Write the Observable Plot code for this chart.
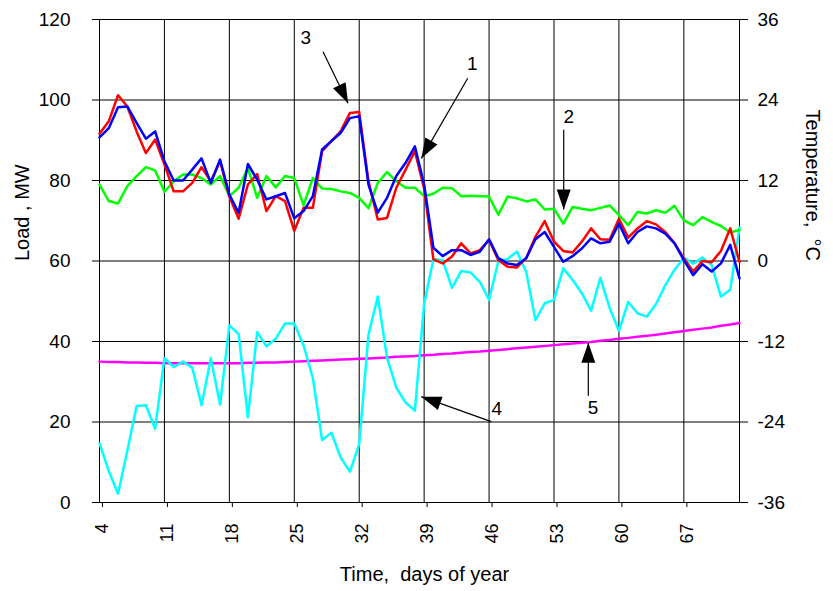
<!DOCTYPE html>
<html>
<head>
<meta charset="utf-8">
<script src="https://cdn.jsdelivr.net/npm/d3@7"></script>
<script src="https://cdn.jsdelivr.net/npm/@observablehq/plot@0.6"></script>
<style>
  body { margin: 0; background: #fff; }
  #chart svg { display: block; }
</style>
</head>
<body>
<div id="chart"></div>
<script>
// ---- data ----
const days = d3.range(4, 74); // day 4 .. 73
const load3 = [91.6, 94.7, 101.2, 98.4, 92.2, 86.8, 90.2, 84, 77.3, 77.3, 79.4, 83.3, 79.8, 84.8, 76, 70.5, 79, 81.6, 72.4, 76.1,
  74.9, 67.5, 73.2, 73.2, 87.3, 89.8, 92.2, 96.8, 97, 79.8, 70.3, 70.7, 78.2, 82.7, 87.3, 78, 60.4, 59.4, 61.1, 64.4,
  61.9, 62.7, 65.2, 60.2, 58.6, 58.4, 60.7, 66, 69.9, 64.8, 62.5, 62.1, 64.8, 68.1, 65.4, 65.3, 70.5, 65.8, 68.1, 69.9,
  69.1, 67.2, 64.4, 60.7, 57.4, 60, 59.7, 62.5, 68.1, 59.8];
const load1 = [90.7, 93, 98.2, 98.4, 94.3, 90.4, 92.2, 84.8, 80, 80, 82.7, 85.5, 79.4, 85.2, 76.5, 72, 84.1, 80.2, 75.3, 76.1,
  76.9, 70.6, 72.4, 76.1, 87.7, 89.8, 91.8, 95.5, 96, 79, 72, 75.7, 81.1, 84.4, 88.5, 79, 63.3, 61.2, 62.7, 62.7,
  61.5, 62.3, 65.4, 60.7, 59.4, 59, 60.7, 65.4, 67.2, 63.5, 59.8, 61.2, 63.1, 65.6, 64.4, 64.8, 69.3, 64.4, 67.2, 68.6,
  68.1, 66.8, 64.4, 60.2, 56.5, 59.2, 57.4, 59.4, 64, 55.7];
const load2 = [79, 74.9, 74.3, 78.6, 81.1, 83.3, 82.5, 77.2, 79.8, 81.5, 81.5, 80.6, 79, 81.1, 76.1, 78.2, 83.1, 75.7, 81.1, 78.3,
  81.1, 80.6, 73.8, 80.6, 78, 77.9, 77.3, 76.9, 75.7, 73.1, 79.4, 82.1, 79.8, 78.2, 78.2, 76.1, 76.7, 78.2, 78.1, 76.1,
  76.2, 76.1, 76.0, 71.5, 76.0, 75.6, 74.8, 75.3, 72.8, 73, 69.3, 73.4, 73, 72.6, 73.2, 73.8, 71.4, 68.9, 72.2, 71.8,
  72.6, 72, 73.7, 70.1, 68.9, 70.9, 69.7, 68.7, 67.1, 67.7];
const temp4 = [-27.2, -31.3, -34.7, -28.3, -21.6, -21.5, -25.0, -14.5, -15.8, -15.0, -15.9, -21.5, -14.5, -21.4, -9.6, -10.9, -23.3, -10.6, -12.7, -11.6,
  -9.3, -9.3, -12.6, -17.4, -26.7, -25.6, -29.3, -31.4, -27.3, -11.0, -5.3, -14.4, -18.9, -21.1, -22.3, -6.4, 0.3, 0.1, -4.0, -1.5,
  -1.7, -3.1, -5.8, 0, 0.3, 1.4, -1.6, -8.8, -6.3, -5.8, -1.1, -2.8, -4.8, -7.4, -2.5, -7.0, -10.4, -6.1, -7.8, -8.3,
  -6.4, -3.6, -1.3, 0.5, -0.4, 0.5, -0.6, -5.3, -4.3, 5.0];
const curve5 = [35.0, 34.9, 34.9, 34.8, 34.8, 34.7, 34.7, 34.6, 34.6, 34.6, 34.6, 34.6, 34.6, 34.6, 34.6, 34.6, 34.7, 34.7, 34.8, 34.8,
  34.9, 35.0, 35.1, 35.2, 35.3, 35.4, 35.5, 35.6, 35.7, 35.8, 35.9, 36.0, 36.2, 36.3, 36.4, 36.6, 36.7, 36.9, 37.0, 37.2,
  37.4, 37.5, 37.7, 37.9, 38.1, 38.3, 38.5, 38.7, 38.9, 39.1, 39.3, 39.5, 39.7, 39.9, 40.2, 40.4, 40.7, 40.9, 41.2, 41.4,
  41.7, 42.0, 42.3, 42.6, 42.9, 43.2, 43.5, 43.9, 44.2, 44.6];

const loadTicks = [0, 20, 40, 60, 80, 100, 120];
const tempTickLabels = [-36, -24, -12, 0, 12, 24, 36];
const dayTicks = [4, 11, 18, 25, 32, 39, 46, 53, 60, 67];
const dayGrid = [11, 18, 25, 32, 39, 46, 53, 60, 67];

// annotation arrows: label, label position, tail, tip (data units: day, MW)
const notes = [
  {label: "3", lx: 26.25, ly: 115.5, x1: 28.1, y1: 112.0, x2: 30.8, y2: 99.2},
  {label: "1", lx: 44.2, ly: 109.0, x1: 43.7, y1: 105.4, x2: 38.7, y2: 85.5},
  {label: "2", lx: 54.6, ly: 95.7, x1: 54.05, y1: 92.6, x2: 54.05, y2: 72.8},
  {label: "4", lx: 46.84, ly: 23.2, x1: 46.24, y1: 20.1, x2: 38.7, y2: 26.3},
  {label: "5", lx: 57.2, ly: 23.4, x1: 56.7, y1: 26.5, x2: 56.7, y2: 39.7}
];

// ---- layout ----
const W = 833, H = 591, mL = 99, mR = 94, mT = 19, mB = 89;
const xs = d3.scaleLinear([4, 73], [mL, W - mR]);
const ys = d3.scaleLinear([0, 120], [H - mB, mT]);
const toLoad = t => (t + 36) * 120 / 72;

const rows = days.map((d, i) => ({day: d, l1: load1[i], l2: load2[i], l3: load3[i], t: temp4[i], c5: curve5[i]}));
notes.forEach(n => {
  const dx = xs(n.x2) - xs(n.x1), dy = ys(n.y2) - ys(n.y1);
  n.angle = Math.atan2(dx, -dy) * 180 / Math.PI;
});
const head = {draw(ctx, l, r) { ctx.moveTo(0, -l); ctx.lineTo(-r, 0); ctx.lineTo(r, 0); ctx.closePath(); }};
const font = "Liberation Sans, Arial, Helvetica, sans-serif";

const chart = Plot.plot({
  width: W, height: H,
  marginLeft: mL, marginRight: mR, marginTop: mT, marginBottom: mB,
  style: {fontFamily: font, background: "#fff", color: "#000"},
  x: {domain: [4, 73]},
  y: {domain: [0, 120]},
  marks: [
    Plot.gridY({ticks: loadTicks, stroke: "#000", strokeOpacity: 1, strokeWidth: 1}),
    Plot.gridX({ticks: dayGrid, stroke: "#000", strokeOpacity: 1, strokeWidth: 1}),
    Plot.frame({stroke: "#000", strokeWidth: 1}),
    Plot.axisY({ticks: loadTicks, anchor: "left", tickSize: 7, tickPadding: 22, fontSize: 19, label: null}),
    Plot.axisY({ticks: tempTickLabels.map(toLoad), tickFormat: (d, i) => String(tempTickLabels[i]),
      anchor: "right", tickSize: 8, tickPadding: 10, fontSize: 19, label: null}),
    Plot.axisX({ticks: dayTicks, tickSize: 5, tickRotate: -90, tickPadding: 16, dx: 3, fontSize: 18, label: null}),
    Plot.line(rows, {x: "day", y: "c5", stroke: "#ff00ff", strokeWidth: 2.5}),
    Plot.line(rows, {x: "day", y: d => toLoad(d.t), stroke: "#00ffff", strokeWidth: 2.5}),
    Plot.line(rows, {x: "day", y: "l2", stroke: "#00ff00", strokeWidth: 2.5}),
    Plot.line(rows, {x: "day", y: "l3", stroke: "#ff0000", strokeWidth: 2.5}),
    Plot.line(rows, {x: "day", y: "l1", stroke: "#0000ff", strokeWidth: 2.5}),
    Plot.link(notes, {x1: "x1", y1: "y1", x2: "x2", y2: "y2", stroke: "#000", strokeWidth: 1.2}),
    Plot.vector(notes, {x: "x2", y: "y2", rotate: "angle", length: 20, r: 7, anchor: "end", shape: head,
      fill: "#000", stroke: "none"}),
    Plot.text(notes, {x: "lx", y: "ly", text: "label", fontSize: 19, fill: "#000"}),
    Plot.text(["Load , MW"], {frameAnchor: "left", dx: -77, rotate: -90, fontSize: 20, fill: "#000"}),
    Plot.text(["Temperature,  \u00B0C"], {frameAnchor: "right", dx: 73, rotate: 90, fontSize: 20, fill: "#000"}),
    Plot.text(["Time,  days of year"], {frameAnchor: "bottom", dx: 5, dy: 78, fontSize: 20, fill: "#000"})
  ]
});
document.getElementById("chart").append(chart);
</script>
</body>
</html>
